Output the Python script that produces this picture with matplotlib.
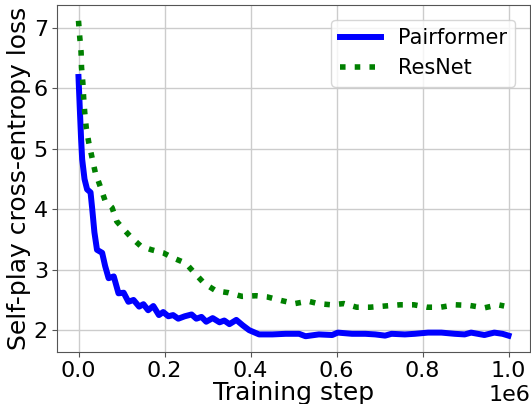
import numpy as np
import matplotlib
matplotlib.use('Agg')
import matplotlib.pyplot as plt

# Pairformer loss
pf_step = [0.0, 0.003, 0.006, 0.0085, 0.014, 0.020, 0.028, 0.032, 0.037, 0.043,
           0.055, 0.062, 0.070, 0.082, 0.093, 0.105, 0.116, 0.128, 0.141, 0.151,
           0.162, 0.174, 0.187, 0.197, 0.209, 0.220, 0.232, 0.247, 0.263, 0.274,
           0.286, 0.297, 0.312, 0.328, 0.339, 0.351, 0.367, 0.382, 0.397, 0.420,
           0.451, 0.482, 0.513, 0.528, 0.559, 0.590, 0.603, 0.636, 0.667, 0.690,
           0.713, 0.728, 0.759, 0.782, 0.813, 0.844, 0.875, 0.898, 0.913, 0.944,
           0.967, 0.986, 1.0]
pf_loss = [6.19, 5.67, 5.17, 4.83, 4.50, 4.33, 4.28, 4.00, 3.62, 3.33,
           3.28, 3.06, 2.86, 2.89, 2.61, 2.62, 2.47, 2.50, 2.39, 2.43,
           2.33, 2.40, 2.25, 2.30, 2.23, 2.25, 2.19, 2.23, 2.26, 2.19,
           2.22, 2.14, 2.20, 2.13, 2.16, 2.10, 2.17, 2.08, 2.00, 1.93,
           1.93, 1.94, 1.94, 1.90, 1.93, 1.92, 1.96, 1.94, 1.94, 1.93,
           1.91, 1.94, 1.93, 1.94, 1.96, 1.96, 1.94, 1.93, 1.96, 1.92,
           1.96, 1.94, 1.91]

# ResNet loss
rn_step = [0.0, 0.003, 0.006, 0.007, 0.010, 0.012, 0.0145, 0.018, 0.024, 0.032,
           0.039, 0.051, 0.062, 0.078, 0.089, 0.105, 0.122, 0.145, 0.170, 0.197,
           0.222, 0.249, 0.272, 0.293, 0.320, 0.349, 0.380, 0.413, 0.439, 0.472,
           0.503, 0.534, 0.557, 0.588, 0.617, 0.647, 0.678, 0.713, 0.748, 0.780,
           0.811, 0.842, 0.876, 0.909, 0.944, 0.976, 0.99]
rn_loss = [7.12, 6.84, 6.60, 6.35, 6.10, 5.84, 5.60, 5.35, 5.10, 4.84,
           4.61, 4.37, 4.14, 4.03, 3.80, 3.67, 3.54, 3.39, 3.33, 3.28,
           3.19, 3.11, 2.93, 2.77, 2.65, 2.62, 2.56, 2.57, 2.55, 2.49,
           2.44, 2.48, 2.44, 2.42, 2.44, 2.38, 2.38, 2.40, 2.42, 2.42,
           2.38, 2.38, 2.42, 2.41, 2.37, 2.42, 2.40]

plt.rcParams['font.size'] = 16
plt.rcParams['axes.edgecolor'] = '#555555'
plt.rcParams['xtick.color'] = '#555555'
plt.rcParams['ytick.color'] = '#555555'
plt.rcParams['xtick.labelcolor'] = 'black'
plt.rcParams['ytick.labelcolor'] = 'black'

fig, ax = plt.subplots(figsize=(5.31, 4.04), dpi=100)
fig.subplots_adjust(left=57/531, right=530/531, top=1-5/404, bottom=1-352/404)

ax.plot(np.array(pf_step)*1e6, pf_loss, color='blue', lw=4.3, label='Pairformer')
ax.plot(np.array(rn_step)*1e6, rn_loss, color='green', lw=4, ls=':', label='ResNet')

ax.grid(True, color='#cccccc', lw=1)
ax.set_xlabel('Training step', fontsize=18, labelpad=0)
ax.set_ylabel('Self-play cross-entropy loss', fontsize=18, labelpad=2)
ax.tick_params(labelsize=16, pad=3)
ax.xaxis.get_offset_text().set_fontsize(16)
ax.legend(loc='upper right', fontsize=15, borderaxespad=0.7)

fig.savefig('out.png', dpi=100)
